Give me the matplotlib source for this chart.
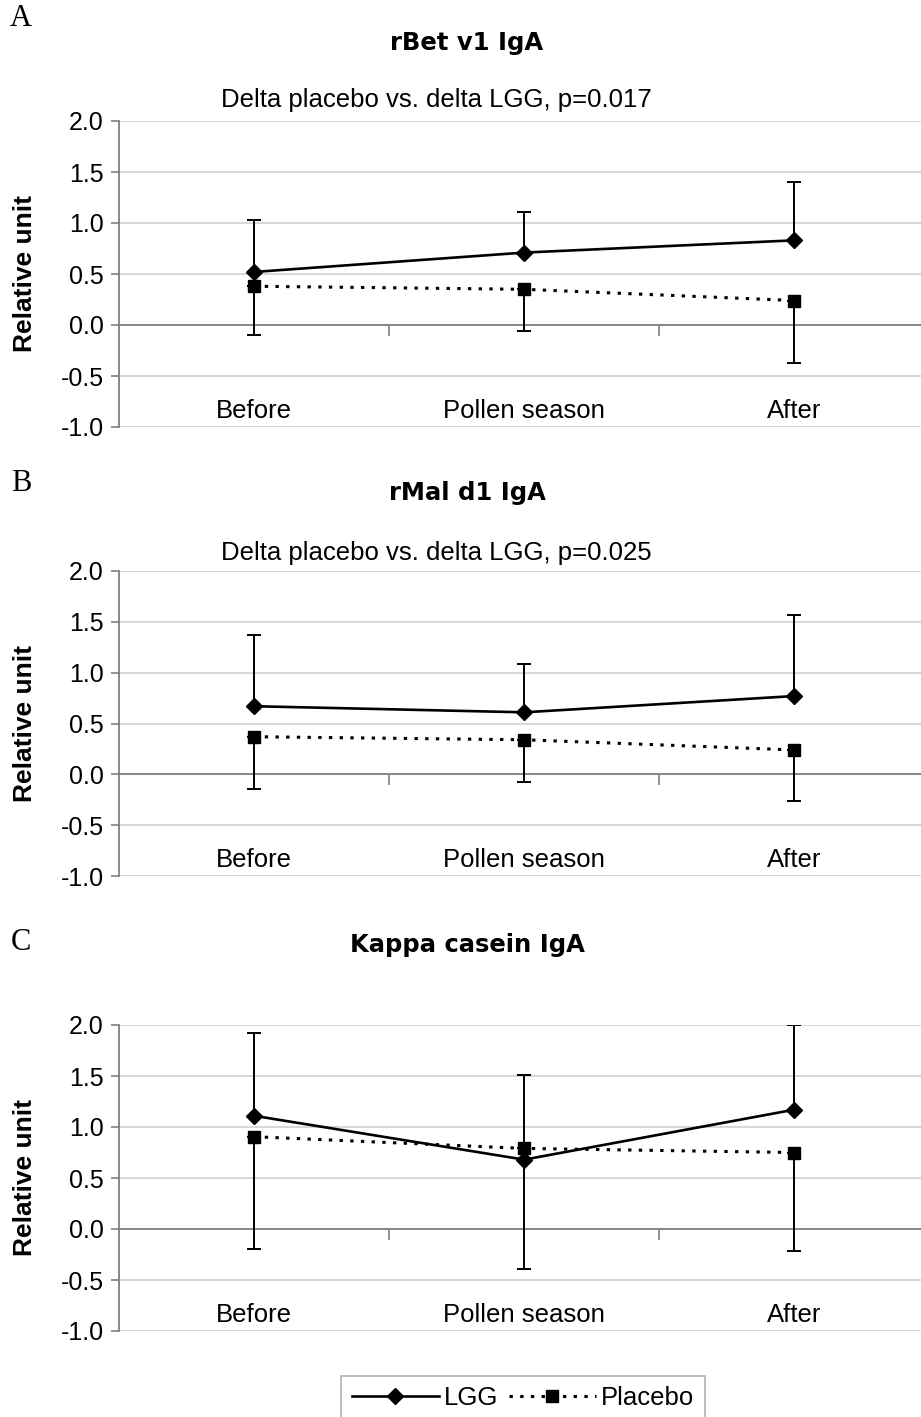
import matplotlib.pyplot as plt
import numpy as np

plt.rcParams['font.family'] = ['Liberation Sans', 'DejaVu Sans']
plt.rcParams['axes.unicode_minus'] = False

# categories on the time axis
categories = ['Before', 'Pollen season', 'After']

# panel texts
panel_letters = ['A', 'B', 'C']
titles = ['rBet v1 IgA', 'rMal d1 IgA', 'Kappa casein IgA']
subtitles = ['Delta placebo vs. delta LGG, p=0.017',
             'Delta placebo vs. delta LGG, p=0.025',
             '']

# means and error bar ends
# (LGG bars only go up, placebo bars only go down)
rbet_lgg = [0.52, 0.71, 0.83]
rbet_lgg_top = [1.03, 1.11, 1.40]
rbet_placebo = [0.38, 0.35, 0.24]
rbet_placebo_bottom = [-0.095, -0.06, -0.375]

rmal_lgg = [0.67, 0.61, 0.77]
rmal_lgg_top = [1.37, 1.09, 1.57]
rmal_placebo = [0.37, 0.34, 0.24]
rmal_placebo_bottom = [-0.14, -0.08, -0.26]

kappa_lgg = [1.11, 0.68, 1.17]
kappa_lgg_top = [1.92, 1.51, 2.00]
kappa_placebo = [0.905, 0.79, 0.75]
kappa_placebo_bottom = [-0.195, -0.39, -0.215]

y_ticks = [-1.0, -0.5, 0.0, 0.5, 1.0, 1.5, 2.0]

panels = [
    (rbet_lgg, rbet_lgg_top, rbet_placebo, rbet_placebo_bottom),
    (rmal_lgg, rmal_lgg_top, rmal_placebo, rmal_placebo_bottom),
    (kappa_lgg, kappa_lgg_top, kappa_placebo, kappa_placebo_bottom),
]

W, H = 921, 1417
fig = plt.figure(figsize=(W / 100, H / 100), dpi=100)

# pixel rows of the 2.0 / -1.0 gridlines for each panel
axes_rows = [(121, 427), (571, 876), (1025, 1331)]
title_rows = [43, 493, 945]
subtitle_rows = [100, 553, None]
letter_rows = [19, 483, 942]

x = np.arange(len(categories))
handles = None

for i, (lgg, lgg_top, plc, plc_bot) in enumerate(panels):
    top, bot = axes_rows[i]
    ax = fig.add_axes([119 / W, (H - bot) / H, (W - 119) / W, (bot - top) / H])

    lgg = np.array(lgg)
    plc = np.array(plc)
    up = np.array(lgg_top) - lgg
    down = plc - np.array(plc_bot)

    ax.errorbar(x, lgg, yerr=[np.zeros_like(up), up], fmt='none', ecolor='black',
                elinewidth=1.4, capsize=5, capthick=1.4, zorder=3)
    ax.errorbar(x, plc, yerr=[down, np.zeros_like(down)], fmt='none', ecolor='black',
                elinewidth=1.4, capsize=5, capthick=1.4, zorder=3)
    h2, = ax.plot(x, plc, color='black', linestyle=(0, (1.1, 2.4)), linewidth=2.2,
                  marker='s', markersize=8, label='Placebo', zorder=4)
    h1, = ax.plot(x, lgg, color='black', linestyle='-', linewidth=1.9,
                  marker='D', markersize=8.5, label='LGG', zorder=5)
    handles = [h1, h2]

    ax.set_xlim(-0.5, 2.469)
    ax.set_ylim(-1.0, 2.0)
    ax.set_yticks(y_ticks)
    ax.yaxis.set_major_formatter('{x:.1f}')
    ax.set_xticks([0.5, 1.5])
    ax.set_xticklabels([])

    ax.set_axisbelow(True)
    ax.yaxis.grid(True, color='#d4d4d4', linewidth=1.3)
    ax.xaxis.grid(False)
    for s in ['top', 'right']:
        ax.spines[s].set_visible(False)
    ax.spines['left'].set_color('#808080')
    ax.spines['left'].set_linewidth(1.3)
    ax.spines['bottom'].set_position(('data', 0))
    ax.spines['bottom'].set_color('#808080')
    ax.spines['bottom'].set_linewidth(1.3)

    ax.tick_params(axis='y', direction='out', length=6, width=1.2, color='#808080',
                   labelsize=18, pad=5)
    ax.tick_params(axis='x', direction='out', length=8, width=1.2, color='#808080')

    for xi, c in zip(x, categories):
        ax.text(xi, -0.84, c, ha='center', va='center', fontsize=18.5)

    ax.set_ylabel('Relative unit', fontsize=19, fontweight='bold')
    ax.yaxis.set_label_coords(-0.102, 0.5)

    fig.text(467 / W, 1 - title_rows[i] / H, titles[i], ha='center', va='center',
             fontsize=17.5, fontweight='bold', family='DejaVu Sans')
    if subtitle_rows[i] is not None:
        fig.text(436 / W, 1 - subtitle_rows[i] / H, subtitles[i], ha='center',
                 va='center', fontsize=18.5)
    fig.text(21 / W, 1 - letter_rows[i] / H, panel_letters[i], ha='center',
             va='center', fontsize=22, family='Liberation Serif')

leg = fig.legend(handles, ['LGG', 'Placebo'], loc='upper center',
                 bbox_to_anchor=(523 / W, 1 - 1376 / H), ncol=2, fontsize=18.5,
                 frameon=True, fancybox=False, edgecolor='#a0a0a0',
                 handlelength=3.4, columnspacing=0.4, handletextpad=0.2,
                 borderpad=0.4, borderaxespad=0)
leg.get_frame().set_linewidth(1.2)

fig.savefig('out.png', dpi=100)
